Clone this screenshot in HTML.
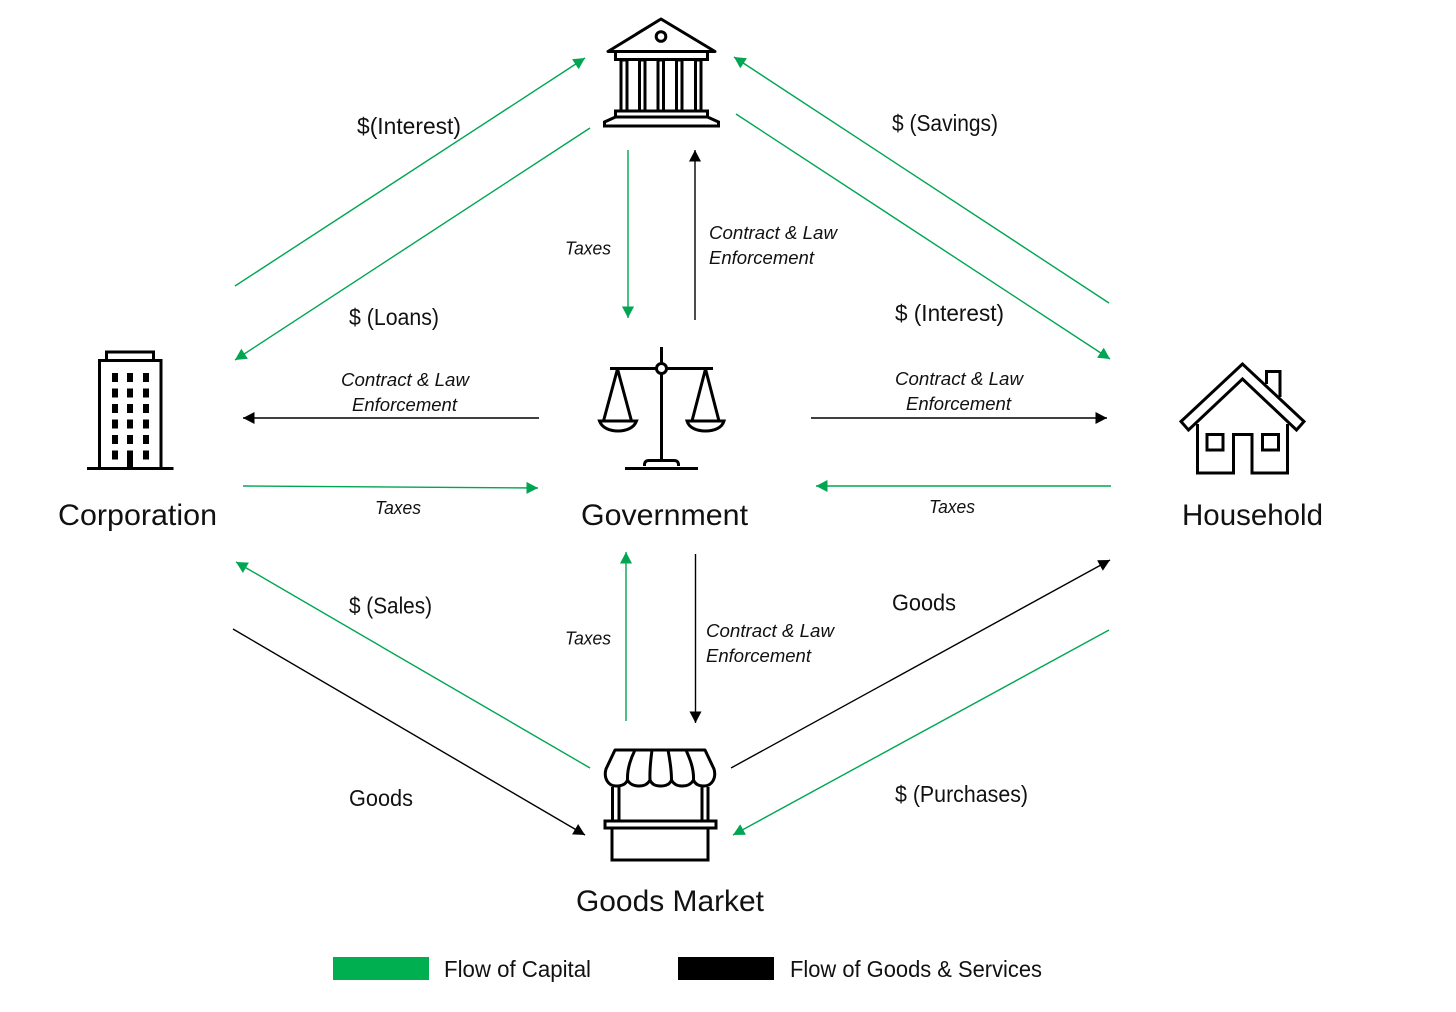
<!DOCTYPE html>
<html>
<head>
<meta charset="utf-8">
<style>
html,body{margin:0;padding:0;background:#fff;width:1456px;height:1012px;overflow:hidden}
svg{display:block}
text{font-family:"Liberation Sans",sans-serif;fill:#111}
.l{font-size:23px}
.i{font-size:18.5px;font-style:italic}
.t{font-size:30px}
.g{stroke:#00a651;stroke-width:1.4;fill:none}
.k{stroke:#000;stroke-width:1.4;fill:none}
.ic{fill:none;stroke:#000;stroke-width:3;stroke-linejoin:miter}
</style>
</head>
<body>
<svg width="1456" height="1012" viewBox="0 0 1456 1012" xmlns="http://www.w3.org/2000/svg">
<defs>
<marker id="mg" markerUnits="userSpaceOnUse" markerWidth="14" markerHeight="13" refX="11.500" refY="6" orient="auto"><path d="M0 0L11.500 6L0 12Z" fill="#00a651"/></marker>
<marker id="mk" markerUnits="userSpaceOnUse" markerWidth="14" markerHeight="13" refX="11.500" refY="6" orient="auto"><path d="M0 0L11.500 6L0 12Z" fill="#000"/></marker>
</defs>
<rect width="1456" height="1012" fill="#fff"/>

<!-- connectors -->
<g class="g">
<line x1="235" y1="286" x2="585" y2="58" marker-end="url(#mg)"/>
<line x1="590" y1="128" x2="235" y2="360" marker-end="url(#mg)"/>
<line x1="736" y1="114" x2="1110" y2="359" marker-end="url(#mg)"/>
<line x1="1109" y1="303" x2="734" y2="57" marker-end="url(#mg)"/>
<line x1="628" y1="150" x2="628" y2="318" marker-end="url(#mg)"/>
<line x1="243" y1="486" x2="538" y2="488" marker-end="url(#mg)"/>
<line x1="1111" y1="486" x2="816" y2="486" marker-end="url(#mg)"/>
<line x1="590" y1="768" x2="236" y2="562" marker-end="url(#mg)"/>
<line x1="626" y1="721" x2="626" y2="552" marker-end="url(#mg)"/>
<line x1="1109" y1="630" x2="733" y2="835" marker-end="url(#mg)"/>
</g>
<g class="k">
<line x1="695" y1="320" x2="695" y2="150" marker-end="url(#mk)"/>
<line x1="539" y1="418" x2="243" y2="418" marker-end="url(#mk)"/>
<line x1="811" y1="418" x2="1107" y2="418" marker-end="url(#mk)"/>
<line x1="233" y1="629" x2="585" y2="835" marker-end="url(#mk)"/>
<line x1="695.5" y1="554" x2="695.5" y2="723" marker-end="url(#mk)"/>
<line x1="731" y1="768" x2="1110" y2="560" marker-end="url(#mk)"/>
</g>

<!-- bank -->
<g class="ic">
<path d="M661 19L608 51.500H715Z" stroke-linejoin="round"/>
<circle cx="661" cy="36.500" r="4.800"/>
<path d="M615.500 52V59.500H707.500V52"/>
<rect x="621" y="60" width="6" height="51"/>
<rect x="639.500" y="60" width="5.500" height="51"/>
<rect x="658" y="60" width="5.500" height="51"/>
<rect x="676.500" y="60" width="5.500" height="51"/>
<rect x="695.500" y="60" width="5.500" height="51"/>
<path d="M615.500 111H707.500V117H615.500Z"/>
<path d="M615.500 117L604.500 122V126H718.500V122L707.500 117"/>
</g>

<!-- scales -->
<g class="ic">
<line x1="661.500" y1="347" x2="661.500" y2="363"/>
<line x1="661.500" y1="374" x2="661.500" y2="461"/>
<line x1="610" y1="368.500" x2="656" y2="368.500"/>
<line x1="667" y1="368.500" x2="713" y2="368.500"/>
<circle cx="661.500" cy="368.500" r="5"/>
<path d="M617.500 369L603.500 421M617.500 369L631.500 421"/>
<path d="M705.500 369L692 421M705.500 369L719 421"/>
<path d="M599.500 421H636.500C634 428 626 431 618 431C610 431 602 428 599.500 421Z"/>
<path d="M687 421H724C722 428 714 431 705.500 431C697 431 689 428 687 421Z"/>
<line x1="625" y1="468.500" x2="698" y2="468.500"/>
<path d="M644.500 466V464Q645 460.500 649 460.500H674Q678 460.500 678.500 464V466"/>
</g>

<!-- market -->
<g class="ic">
<path d="M615 750H705L714 769C716.500 778 712 786 704 786C698 786 695 784 693.500 780C691.500 784 687 786 682 786C677 786 673.500 784 671.500 780C670 784 666 786 660.500 786C655 786 651.500 784 650 780C648 784 644 786 639 786C634 786 629.500 784 627.500 780C626 784 622 786 616 786C608 786 603.500 778 606 769Z" stroke-linejoin="round"/>
<path d="M627.500 780C627 768 631 758 635 750M650 780C649.500 768 651 758 652 750M671.500 780C671.500 768 669.500 758 668 750M693.500 780C694 768 689.500 758 686 750"/>
<path d="M612.500 787V820M619 787V820M702 787V820M708 787V820"/>
<rect x="605" y="821" width="111" height="7"/>
<path d="M612 828V860H708V828"/>
</g>

<!-- building -->
<g>
<path class="ic" d="M106.500 360V352H153.500V360"/>
<path class="ic" d="M99.500 469V360.500H161V469"/>
<line x1="87" y1="468.500" x2="173.500" y2="468.500" stroke="#000" stroke-width="3"/>
<g fill="#000">
<rect x="112" y="373" width="6" height="9"/><rect x="127" y="373" width="6" height="9"/><rect x="143" y="373" width="6" height="9"/>
<rect x="112" y="388.500" width="6" height="9"/><rect x="127" y="388.500" width="6" height="9"/><rect x="143" y="388.500" width="6" height="9"/>
<rect x="112" y="404" width="6" height="9"/><rect x="127" y="404" width="6" height="9"/><rect x="143" y="404" width="6" height="9"/>
<rect x="112" y="419.500" width="6" height="9"/><rect x="127" y="419.500" width="6" height="9"/><rect x="143" y="419.500" width="6" height="9"/>
<rect x="112" y="435" width="6" height="9"/><rect x="127" y="435" width="6" height="9"/><rect x="143" y="435" width="6" height="9"/>
<rect x="112" y="450.500" width="6" height="9"/><rect x="127" y="450.500" width="6" height="18"/><rect x="143" y="450.500" width="6" height="9"/>
</g>
</g>

<!-- house -->
<g class="ic">
<path d="M1242.500 364L1181 421.500L1188.500 430L1242.500 379L1296.500 430L1304 421.500Z"/>
<path d="M1266.500 384V371.500H1280V397"/>
<path d="M1197.500 424V473H1233.500V434.500H1252V473H1287.500V424"/>
<rect x="1207" y="434.500" width="16" height="15.500"/>
<rect x="1262.500" y="434.500" width="16" height="15.500"/>
</g>

<!-- labels -->
<g>
<text class="l" x="357" y="134" textLength="104" lengthAdjust="spacingAndGlyphs">$(Interest)</text>
<text class="l" x="349" y="325" textLength="90" lengthAdjust="spacingAndGlyphs">$ (Loans)</text>
<text class="l" x="892" y="131" textLength="106" lengthAdjust="spacingAndGlyphs">$ (Savings)</text>
<text class="l" x="895" y="321" textLength="109" lengthAdjust="spacingAndGlyphs">$ (Interest)</text>
<text class="l" x="349" y="613.500" textLength="83" lengthAdjust="spacingAndGlyphs">$ (Sales)</text>
<text class="l" x="892" y="610.500" textLength="64" lengthAdjust="spacingAndGlyphs">Goods</text>
<text class="l" x="349" y="806" textLength="64" lengthAdjust="spacingAndGlyphs">Goods</text>
<text class="l" x="895" y="802" textLength="133" lengthAdjust="spacingAndGlyphs">$ (Purchases)</text>

<text class="i" x="565" y="254.500" textLength="46" lengthAdjust="spacingAndGlyphs">Taxes</text>
<text class="i" x="565" y="644.500" textLength="46" lengthAdjust="spacingAndGlyphs">Taxes</text>
<text class="i" x="375" y="514" textLength="46" lengthAdjust="spacingAndGlyphs">Taxes</text>
<text class="i" x="929" y="513" textLength="46" lengthAdjust="spacingAndGlyphs">Taxes</text>

<text class="i" x="709" y="239" textLength="128" lengthAdjust="spacingAndGlyphs">Contract &amp; Law</text>
<text class="i" x="709" y="264" textLength="105" lengthAdjust="spacingAndGlyphs">Enforcement</text>
<text class="i" x="341" y="386" textLength="128" lengthAdjust="spacingAndGlyphs">Contract &amp; Law</text>
<text class="i" x="352" y="411" textLength="105" lengthAdjust="spacingAndGlyphs">Enforcement</text>
<text class="i" x="895" y="385" textLength="128" lengthAdjust="spacingAndGlyphs">Contract &amp; Law</text>
<text class="i" x="906" y="410" textLength="105" lengthAdjust="spacingAndGlyphs">Enforcement</text>
<text class="i" x="706" y="637" textLength="128" lengthAdjust="spacingAndGlyphs">Contract &amp; Law</text>
<text class="i" x="706" y="662" textLength="105" lengthAdjust="spacingAndGlyphs">Enforcement</text>

<text class="t" x="58" y="525" textLength="159" lengthAdjust="spacingAndGlyphs">Corporation</text>
<text class="t" x="581" y="525" textLength="167" lengthAdjust="spacingAndGlyphs">Government</text>
<text class="t" x="1182" y="525" textLength="141" lengthAdjust="spacingAndGlyphs">Household</text>
<text class="t" x="576" y="911" textLength="188" lengthAdjust="spacingAndGlyphs">Goods Market</text>

<text class="l" x="444" y="977" textLength="147" lengthAdjust="spacingAndGlyphs">Flow of Capital</text>
<text class="l" x="790" y="977" textLength="252" lengthAdjust="spacingAndGlyphs">Flow of Goods &amp; Services</text>
</g>

<!-- legend -->
<rect x="333" y="957" width="96" height="23" fill="#00b050"/>
<rect x="678" y="957" width="96" height="23" fill="#000"/>
</svg>
</body>
</html>
